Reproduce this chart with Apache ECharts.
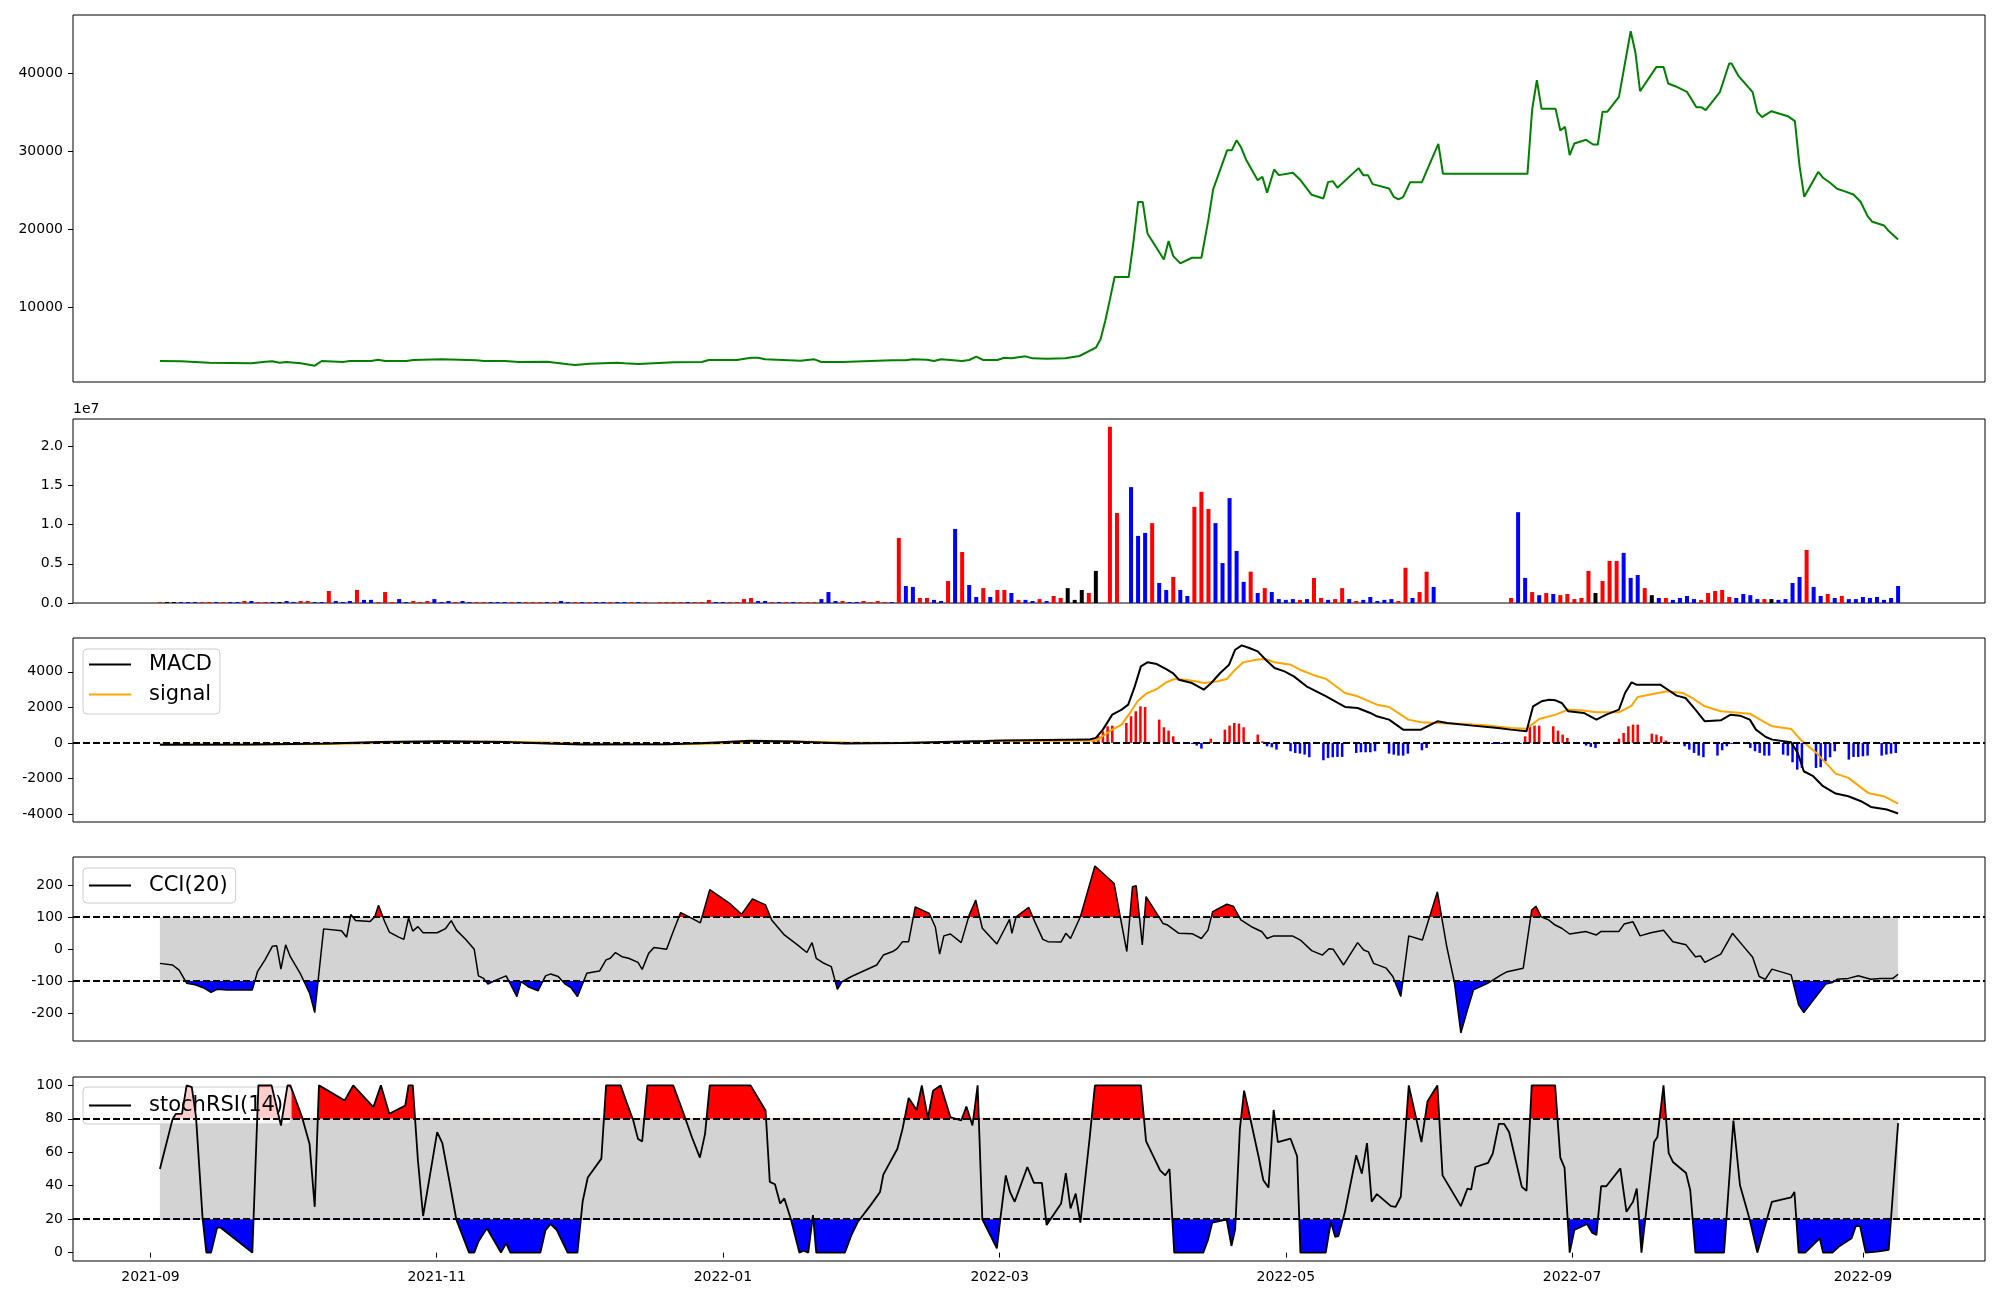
<!DOCTYPE html>
<html><head><meta charset="utf-8">
<script src="https://cdn.jsdelivr.net/npm/echarts@6/dist/echarts.min.js"></script>
<style>html,body{margin:0;padding:0;background:#fff}#chart{width:2000px;height:1300px}</style>
</head><body><div id="chart"></div>
<script>
// ---------- DATA (x = days after 2021-09-03) ----------
const START = [2021, 8, 3];
const VOLUME_STEP_DAYS = 1.5;
const monthTicks = ['2021-09','2021-11','2022-01','2022-03','2022-05','2022-07','2022-09'];
const priceTicks = [10000, 20000, 30000, 40000];
const volumeTicks = [0, 0.5, 1.0, 1.5, 2.0];
const macdTicks = [-4000, -2000, 0, 2000, 4000];
const cciTicks = [-200, -100, 0, 100, 200];
const stochTicks = [0, 20, 40, 60, 80, 100];

const price = [[0,3182],[4.5,3139],[7.5,3054],[10.5,2969],[19.5,2884],[22.5,3097],[24,3139],[25.5,2969],[27,3054],[30,2884],[33,2586],[34.5,3182],[39,3054],[40.5,3182],[45,3182],[46.5,3352],[48,3182],[52.5,3182],[54,3310],[60,3395],[67.5,3267],[69,3182],[73.5,3182],[76.5,3054],[82.5,3097],[87,2756],[88.5,2671],[91.5,2841],[97.5,2969],[99,2884],[102,2799],[109.5,3012],[115.5,3054],[117,3310],[123,3310],[126,3608],[127.5,3608],[129,3395],[136.5,3225],[139.5,3395],[141,3054],[145.5,3054],[156,3267],[159,3267],[160.5,3395],[163.5,3352],[165,3182],[166.5,3395],[171,3182],[172.5,3310],[174,3736],[175.5,3310],[178.5,3310],[180,3608],[181.5,3523],[184.5,3778],[186,3523],[189,3480],[193,3523],[196,3821],[199.5,4885],[200.5,5950],[201.5,8290],[202.5,11057],[203.5,13909],[206.5,13909],[207.5,18294],[208.5,23488],[209.5,23488],[210.5,19486],[214,16166],[215,18507],[216,16592],[217.5,15656],[220,16379],[222,16379],[223.5,21274],[224.5,25105],[227.5,30128],[228.5,30128],[229.5,31406],[230.5,30427],[231.5,28937],[234,26297],[235,26723],[236,24680],[237.5,27660],[238.5,26936],[241.5,27234],[243,26383],[245.5,24424],[248,23956],[249,26042],[250,26170],[251,25318],[255.5,27830],[256.5,26936],[257.5,26936],[258.5,25786],[262,25233],[263,24169],[264,23828],[265,24126],[266.5,26042],[269,26042],[270,27447],[272.5,30938],[273.5,27106],[291.5,27106],[292.5,35322],[293.5,39068],[294.5,35407],[297.5,35407],[298.5,32640],[299.5,33108],[300.5,29490],[301.5,30980],[304,31448],[305.5,30852],[306.5,30852],[307.5,35024],[308.5,35024],[311,36940],[313.5,45326],[314.5,42644],[315.5,37663],[319,40770],[320.5,40770],[321.5,38642],[323,38302],[325.5,37578],[327.5,35620],[328.5,35620],[329.5,35237],[332.5,37535],[334.5,41196],[335,41196],[336.5,39579],[339.5,37535],[340.5,34981],[341.5,34343],[343.5,35109],[347,34470],[348.5,33832],[349.5,28085],[350.5,24169],[353.5,27362],[354.5,26595],[356,25957],[357.5,25190],[359,24892],[361,24467],[362.5,23530],[364,21700],[365,20976],[367.5,20507],[368.5,19784],[370.5,18719]];

// volume, in units of 1e7, one bar every VOLUME_STEP_DAYS
const volumeE7 = [
 .013,.013,.013,.013,.013,.013,.013,.013,.013,.013,.013,.013,.026,.026,.013,.013,.013,.013,.026,.013,.026,.026,.013,.013,
 .153,.026,.013,.026,.166,.04,.04,.013,.14,.013,.05,.013,.026,.013,.026,.05,.013,.026,.013,.026,.013,.013,.013,.013,
 .013,.013,.013,.013,.013,.013,.013,.013,.013,.026,.013,.013,.013,.013,.013,.013,.013,.013,.013,.013,.013,.013,0,.013,
 .013,.013,.013,.013,.013,.013,.04,.013,.013,.013,.013,.05,.064,.026,.026,.013,.013,.013,.013,.013,.013,.013,.05,.14,
 .026,.026,.013,.013,.026,.013,.026,.013,.013,.831,.217,.205,.064,.064,.04,.026,.281,.946,.652,.23,.077,.19,.077,.166,
 .166,.128,.04,.04,.026,.05,.026,.09,.064,.19,.04,.166,.128,.41,0,2.25,1.15,0,1.48,.857,.895,1.02,.256,.166,
 .332,.166,.09,1.228,1.42,1.20,1.02,.51,1.34,.665,.27,.40,.128,.19,.14,.05,.04,.05,.04,.05,.32,.064,.04,.05,
 .19,.05,.026,.04,.077,.026,.04,.05,.026,.45,.064,.14,.40,.205,0,0,0,0,0,0,0,0,0,0,
 .064,1.16,.32,.14,.10,.128,.115,.10,.115,.05,.064,.41,.128,.28,.537,.537,.64,.32,.358,.19,.10,.064,.064,.04,
 .064,.09,.05,.04,.128,.153,.166,.077,.064,.115,.10,.05,.05,.05,.04,.05,.256,.332,.678,.205,.09,.115,.064,.09,
 .05,.05,.077,.064,.077,.04,.064,.217];
const volumeColors =
 'rkkbbbrrbrbbrbrrbkbbrrbb' + 'rbbbrbbrrrbbrrrbbbrbbrrb' + 'bbrbrrrbrbbrbrbbrbbrbrrr' +
 'rrrbrrrbbrrrrbbrbrbrrrbb' + 'brbbrrrrbrbbrrbbrbrbbrbr' + 'rbrbbrbrrkkkrkrrrrbbbrbb' +
 'rbbrrrbbbbbrbrbbbbrbrrbr' + 'rbrbbbbbrrbrrbrrrrrrrrrr' + 'rbbrbrbrrrrrkrrrbbbrkbrb' +
 'bbbrrrrrbbbbrkbbbbrbbrbr' + 'bbbbbbbb';

const macd = [[0,-100],[19.5,-90],[36,-30],[46.5,50],[60,90],[73.5,50],[82.5,-30],[90,-90],[108,-80],[115,-20],[126,120],[135,80],[146,-40],[158,0],[169,60],[176,100],[179.2,128],[198,184],[199.5,278],[201,746],[203,1589],[205,1870],[206.4,2151],[207.8,3181],[209.1,4305],[210.5,4530],[212.5,4436],[214.5,4155],[215.9,3930],[217.2,3556],[220,3368],[222.5,2994],[224.1,3368],[226,3930],[227.9,4398],[229.2,5241],[230.6,5485],[232.2,5335],[234,5148],[235.7,4679],[237.6,4211],[239.7,4024],[241.7,3743],[244.4,3181],[248.6,2619],[252.6,2020],[255.3,1963],[258,1683],[259.4,1495],[262,1308],[265,746],[268.8,746],[270.9,1027],[272.3,1214],[274.4,1120],[279.8,971],[285.2,840],[287.9,746],[291.3,652],[292.7,2057],[294.5,2338],[296.1,2432],[297.5,2394],[298.8,2245],[300.2,1776],[303.5,1683],[306.2,1308],[308.3,1589],[311,1870],[312.3,2807],[313.7,3406],[314.7,3275],[319.8,3275],[321.2,3031],[323.3,2657],[325.2,2525],[327.3,1870],[329.3,1214],[332.7,1270],[334.8,1589],[336.8,1533],[338.9,1308],[340.2,746],[342.3,334],[343.7,184],[347.7,34],[349.1,-565],[350.4,-1595],[352.4,-1876],[354.5,-2438],[357.2,-2850],[359.9,-3000],[362.6,-3281],[364.7,-3600],[368.1,-3749],[370.5,-3974]];
const signal = [[0,-80],[19.5,-90],[36,-60],[46.5,0],[60,60],[73.5,60],[82.5,20],[90,-40],[108,-80],[115,-60],[126,40],[135,80],[146,20],[158,-10],[169,30],[179.2,90],[199.5,128],[200.9,371],[203,746],[205,1027],[207,1776],[208.4,2338],[210.2,2769],[212.5,3031],[214.5,3406],[216.2,3593],[218.6,3556],[220.7,3462],[222.6,3368],[225.5,3462],[227.4,3593],[229.2,4117],[230.9,4530],[233.6,4679],[235.7,4717],[237.6,4530],[241,4398],[243,4117],[245.7,3836],[248.6,3593],[252.6,2807],[255.3,2619],[259.4,2151],[262,2020],[266.1,1308],[268.8,1158],[271.7,1120],[277.1,1083],[282.5,989],[287.9,840],[291.3,802],[294,1345],[297.5,1589],[300.2,1870],[302.9,1832],[306.2,1720],[311,1720],[313.7,2095],[315,2582],[318.5,2769],[321.2,2900],[324.6,2807],[326.6,2526],[329.3,2057],[332.7,1776],[338.9,1645],[340.8,1345],[343.7,933],[347.7,784],[349.7,184],[353.1,-565],[357.2,-1726],[359.9,-1970],[364.1,-2813],[367.4,-3000],[370.5,-3412]];
const hist = [[199,184],[200,409],[201,652],[202,933],[203,971],[206,1120],[207,1495],[208,1776],[209,2057],[210,2020],[213,1308],[214,877],[215,690],[216,371],[220,-56],[221,-150],[222,-322],[224,240],[227,746],[228,971],[229,1120],[230,1083],[231,877],[234,465],[235,90],[236,-190],[237,-247],[238,-378],[241,-471],[242,-565],[243,-603],[244,-659],[245,-808],[248,-977],[249,-846],[250,-808],[251,-790],[252,-790],[255,-565],[256,-527],[257,-527],[258,-527],[259,-471],[262,-603],[263,-659],[264,-715],[265,-715],[266,-603],[269,-415],[270,-284],[277,-60],[278,-60],[283,-60],[284,-60],[285,-60],[286,-60],[290,-60],[291,371],[292,933],[293,971],[294,971],[297,933],[298,690],[299,465],[300,278],[304,-150],[305,-225],[306,-284],[311,240],[312,559],[313,933],[314,1027],[315,1027],[318,521],[319,465],[320,371],[321,128],[322,34],[325,-190],[326,-378],[327,-565],[328,-715],[329,-808],[332,-715],[333,-415],[334,-190],[335,-60],[339,-284],[340,-471],[341,-565],[342,-715],[343,-715],[346,-659],[347,-715],[348,-1090],[349,-1502],[350,-1408],[353,-1408],[354,-1370],[355,-1033],[356,-808],[357,-471],[360,-940],[361,-790],[362,-790],[363,-752],[364,-715],[367,-715],[368,-659],[369,-603],[370,-565]];

const cci = [[0,-45],[2.7,-50],[4.1,-66],[5.7,-107],[7.5,-112],[9.5,-123],[10.9,-136],[12.2,-126],[14.3,-128],[19.7,-128],[20.8,-71],[22.4,-34],[24,9],[24.9,10],[25.8,-63],[26.8,13],[27.8,-24],[29.9,-76],[31.9,-138],[33,-199],[34.9,63],[38.7,57],[39.8,37],[40.7,108],[41.7,89],[44.8,86],[45.8,101],[46.6,137],[47.9,86],[48.9,53],[50.9,37],[52,30],[53,97],[53.9,56],[55,70],[56.1,51],[59.1,51],[60.9,64],[62.1,89],[63.2,59],[65.2,30],[67,-1],[67.9,-84],[69,-92],[69.9,-110],[72,-95],[73.8,-84],[76.1,-149],[77,-102],[78.5,-118],[80.6,-131],[82.2,-84],[83.3,-78],[84.9,-86],[86.3,-109],[87.6,-121],[89,-149],[91,-76],[92.4,-72],[93.7,-69],[95.1,-34],[96,-29],[97.1,-11],[98.5,-24],[99.9,-29],[101.9,-42],[102.8,-64],[104.2,-13],[105.3,5],[108,-1],[109.4,54],[111,114],[112.1,106],[115.2,82],[117.2,186],[121.6,141],[124,109],[126.3,157],[129.1,138],[130.4,91],[133.1,44],[135.9,13],[137.9,-11],[139,20],[139.9,-29],[141.3,-43],[143.1,-55],[144.4,-126],[145.4,-102],[147.4,-86],[150.1,-68],[152.8,-50],[154.2,-19],[156.2,-8],[157.2,2],[158.3,23],[159.6,23],[161,132],[164,111],[165.3,68],[166.2,-16],[167.1,41],[168.5,47],[170.8,20],[172.5,106],[173.9,153],[175.3,65],[178.4,16],[180,61],[181.1,93],[181.6,49],[182.5,101],[185.2,130],[186.5,85],[188.2,30],[189.3,23],[192.1,22],[193.1,49],[194.1,33],[196.2,101],[199.3,260],[203.4,205],[204.7,101],[206.1,-8],[207.3,195],[208.1,198],[209.4,13],[210.2,164],[211.8,127],[213.8,80],[214.8,75],[217.2,49],[220,48],[222,33],[223.4,59],[224.4,117],[227.4,140],[228.8,134],[230.4,91],[232.9,68],[234.9,54],[236,33],[237.4,41],[241.4,41],[243.1,28],[245.5,-5],[247.8,-19],[249.2,1],[250.1,-1],[252.3,-50],[255.3,20],[256.6,-3],[257.6,-9],[258.7,-45],[261.4,-60],[262.8,-86],[264.5,-149],[266.2,41],[269.1,28],[272.3,179],[274.3,7],[275.9,-102],[277.3,-263],[278.7,-191],[280,-128],[283.1,-107],[285.9,-81],[287.2,-71],[290.6,-60],[292.4,122],[293.3,134],[294.4,101],[296,91],[297.4,75],[298.8,65],[300.5,47],[302.2,51],[303.9,55],[306.2,44],[307.2,55],[311,55],[312.1,78],[314,85],[315.5,41],[317.8,51],[320.5,59],[322.5,23],[325.3,13],[327.3,-24],[328.4,-22],[329.3,-42],[332.7,-16],[335.2,49],[337.5,9],[339.5,-26],[340.9,-86],[342.2,-95],[343.6,-63],[347.7,-81],[349.3,-175],[350.4,-199],[353.1,-147],[355.1,-110],[356.5,-105],[357.5,-95],[359.9,-92],[362,-84],[364.7,-95],[366.7,-92],[369.4,-92],[370.5,-79]];

const stoch = [[0,50],[2.7,79.8],[3.4,83],[4.7,83],[5.7,100],[6.8,99],[7.7,81],[9.1,20.5],[9.9,0],[10.9,0],[12.2,15],[12.9,15],[19.7,0],[21,100],[23.8,100],[25.8,76],[27.2,100],[27.8,100],[30.3,81],[31.9,65],[33,27.4],[33.9,100],[39.4,91],[41.2,100],[45.5,87],[47.1,100],[48.9,83],[52.3,88],[53,100],[53.9,100],[55,55],[56.1,21.9],[59.1,72],[60.2,65.5],[61.8,41.3],[63.2,19.5],[65.9,0],[67,0],[67.9,6.6],[69.7,14.5],[72.7,0],[73.8,5.6],[74.7,0],[81.1,0],[82.2,13.5],[83.3,17.1],[84.6,13.5],[86.9,0],[89,0],[90.1,30.4],[91.2,44.9],[94.1,56.2],[95.1,100],[98.2,100],[99.6,88.9],[100.9,79],[101.9,68],[102.8,66.5],[103.9,100],[109.4,100],[111.4,85],[113.4,69],[115.1,56.8],[116.2,71],[117.2,100],[125.9,100],[129.1,85],[130,42.3],[131.1,40.9],[132.2,29.4],[133.1,32.4],[134.5,19.9],[136.3,0],[137.2,1.2],[138.2,0],[139.2,22.4],[139.9,0],[146,0],[147.4,10.5],[148.8,18.5],[151.5,28.4],[153.5,36.3],[154.2,46.6],[157.2,62.1],[158.3,74],[159.6,92.5],[161.3,85.3],[162.4,100],[163.7,80.4],[164.8,96.8],[166.4,100],[168.5,81],[170.8,79],[171.9,87.3],[173.2,76],[174.3,100],[175.3,19.9],[178.4,2.6],[179.2,21.5],[180.3,46.2],[181.2,36.3],[182.2,30.4],[184.9,51.2],[186.3,41.7],[188,41.7],[189,16.5],[192.1,29.4],[193.1,47.6],[194.1,26.4],[195.2,35.3],[196.2,17.9],[198.2,69.1],[199.3,100],[209.1,100],[210.2,66.7],[213.2,49.2],[214.3,46.2],[215.2,50],[216.2,0],[222.4,0],[223.4,7.6],[224.3,17.9],[226.8,19.5],[227.4,19.5],[228.4,4],[229.2,13.9],[230.2,74],[231.1,96.8],[232.2,83],[234.2,57.2],[235.2,43.3],[236.3,38.9],[237.4,85.3],[238.3,66.1],[241,68.1],[242.4,57.6],[243.1,0],[248.5,0],[249.6,18.5],[250.5,9.5],[251.2,9.9],[252.6,24.4],[255,58.2],[256.2,47.2],[257.3,65.5],[258.3,30.4],[259.4,35],[262.4,27.8],[263.4,27.4],[264.5,33.4],[266.2,100],[268.9,66.1],[270.2,90.5],[272.3,100],[273.4,46.2],[277.3,27.8],[278.7,38.3],[279.5,37.7],[280.4,51.2],[283.1,53.6],[284.1,59.2],[285.4,77],[286.5,77],[287.6,72],[290.3,39.3],[291.3,36.9],[292.4,100],[297.4,100],[298.5,56.8],[299.4,50.8],[300.5,0],[301.5,13.5],[304.2,17.1],[305.3,11.9],[306.2,10.5],[307.2,39.7],[308.3,39.7],[311.3,50.4],[312.6,24.4],[314,30.4],[314.8,38.3],[315.8,0],[318.5,66.1],[319.2,69.1],[320.5,100],[321.6,59.5],[322.5,54.2],[325.3,47.6],[326.2,37.3],[327.3,0],[333.4,0],[335.4,79],[336.8,40.3],[338.8,20.5],[340.5,0],[343.6,30.4],[347.7,33],[348.4,36.3],[349.3,0],[350.7,0],[353.8,8.6],[354.5,0],[356.5,0],[357.9,3.6],[360.6,8.6],[361.5,15.9],[362.4,15.9],[363.6,0],[366,0.6],[368.5,1.6],[370.5,77.4]];

// ---------- CHART ----------
const FONT = 'DejaVu Sans';
const DAY = 86400000;
const t0 = new Date(START[0], START[1], START[2]).getTime();
const T = d => t0 + d * DAY;
const lastDay = price[price.length - 1][0];
const xMin = T(-0.05 * lastDay), xMax = T(1.05 * lastDay);
const monthVals = monthTicks.map(s => new Date(+s.slice(0, 4), +s.slice(5, 7) - 1, 1).getTime());
const pad2 = n => (n < 10 ? '0' : '') + n;
const fmtMonth = v => { const d = new Date(v); return d.getFullYear() + '-' + pad2(d.getMonth() + 1); };
const toXY = arr => arr.map(p => [T(p[0]), p[1]]);
const colorOf = { r: '#ff0000', b: '#0000ff', k: '#000000' };

const gridBoxes = [[15, 367], [419, 184], [638, 184], [857, 184], [1077, 184]];
const grid = gridBoxes.map(g => ({ left: 73, right: 15, top: g[0], height: g[1], show: true, borderColor: '#000', borderWidth: 1, backgroundColor: 'transparent' }));

const xAxis = gridBoxes.map((g, i) => ({
  type: 'value', gridIndex: i, min: xMin, max: xMax, scale: true,
  axisLine: { show: false }, splitLine: { show: false },
  axisTick: { show: i === 4, customValues: monthVals, length: 5, lineStyle: { color: '#000', width: 1 } },
  axisLabel: { show: i === 4, customValues: monthVals, formatter: fmtMonth, fontSize: 14, fontFamily: FONT, color: '#000', margin: 9 }
}));

function yAx(i, min, max, ticks, fmt) {
  return {
    type: 'value', gridIndex: i, min, max, scale: true,
    axisLine: { show: false }, splitLine: { show: false },
    axisTick: { show: true, customValues: ticks, length: 5, lineStyle: { color: '#000', width: 1 } },
    axisLabel: { show: true, customValues: ticks, formatter: fmt, fontSize: 14, fontFamily: FONT, color: '#000', margin: 10 }
  };
}
const yAxis = [
  yAx(0, 500, 47400, priceTicks, v => String(v)),
  yAx(1, 0, 2.35, volumeTicks, v => v.toFixed(1)),
  yAx(2, -4450, 5900, macdTicks, v => String(v)),
  yAx(3, -288, 288, cciTicks, v => String(v)),
  yAx(4, -5, 105, stochTicks, v => String(v))
];

const dashed = { type: [7, 3], color: '#000', width: 2 };
const hLines = (vals) => ({ silent: true, symbol: 'none', label: { show: false }, lineStyle: dashed, data: vals.map(v => ({ yAxis: v })) });
const band = (lo, hi) => ({ silent: true, itemStyle: { color: '#d3d3d3' }, data: [[{ xAxis: T(0), yAxis: lo }, { xAxis: T(lastDay), yAxis: hi }]] });
const fillSeries = (idx, data, origin, z) => ({ type: 'line', xAxisIndex: idx, yAxisIndex: idx, data, symbol: 'none', z, silent: true, lineStyle: { opacity: 0, width: 0 }, areaStyle: { origin, opacity: 1 } });

const series = [];
series.push({ name: 'price', type: 'line', xAxisIndex: 0, yAxisIndex: 0, data: toXY(price), symbol: 'none', lineStyle: { color: '#008000', width: 2 }, itemStyle: { color: '#008000' } });
series.push({ name: 'volume', type: 'bar', xAxisIndex: 1, yAxisIndex: 1, barWidth: 4,
  data: volumeE7.map((v, k) => ({ value: [T(k * VOLUME_STEP_DAYS), v], itemStyle: { color: colorOf[volumeColors[k]] || '#0000ff' } })).filter(o => o.value[1] > 0) });
series.push({ name: 'hist', type: 'bar', xAxisIndex: 2, yAxisIndex: 2, barWidth: 2.5, z: 2,
  data: hist.map(p => ({ value: [T(p[0]), p[1]], itemStyle: { color: p[1] >= 0 ? '#ff0000' : '#0000ff' } })) });
series.push({ name: 'signal', type: 'line', xAxisIndex: 2, yAxisIndex: 2, data: toXY(signal), symbol: 'none', z: 3, lineStyle: { color: '#ffa500', width: 2 }, itemStyle: { color: '#ffa500' } });
series.push({ name: 'MACD', type: 'line', xAxisIndex: 2, yAxisIndex: 2, data: toXY(macd), symbol: 'none', z: 4, lineStyle: { color: '#000', width: 2 }, itemStyle: { color: '#000' }, markLine: hLines([0]) });
// CCI
const cciXY = toXY(cci);
series.push({ name: 'cciBand', type: 'line', xAxisIndex: 3, yAxisIndex: 3, data: [[T(0), 0]], symbol: 'none', lineStyle: { opacity: 0 }, z: 1, markArea: band(-100, 100) });
series.push(fillSeries(3, cciXY, 100, 2));   // index 6
series.push(fillSeries(3, cciXY, -100, 2));  // index 7
series.push({ name: 'CCI(20)', type: 'line', xAxisIndex: 3, yAxisIndex: 3, data: cciXY, symbol: 'none', z: 4, lineStyle: { color: '#000', width: 1.5 }, itemStyle: { color: '#000' }, markLine: hLines([100, -100]) });
// stochRSI
const stXY = toXY(stoch);
series.push({ name: 'stBand', type: 'line', xAxisIndex: 4, yAxisIndex: 4, data: [[T(0), 50]], symbol: 'none', lineStyle: { opacity: 0 }, z: 1, markArea: band(20, 80) });
series.push(fillSeries(4, stXY, 80, 2));   // index 10
series.push(fillSeries(4, stXY, 20, 2));   // index 11
series.push({ name: 'stochRSI(14)', type: 'line', xAxisIndex: 4, yAxisIndex: 4, data: stXY, symbol: 'none', z: 4, lineStyle: { color: '#000', width: 1.8 }, itemStyle: { color: '#000' }, markLine: hLines([80, 20]) });

const clear = 'rgba(255,255,255,0)';
const visualMap = [
  { type: 'piecewise', show: false, seriesIndex: 6, dimension: 1, pieces: [{ gt: 100, lte: 5000, color: '#ff0000' }, { gte: -5000, lte: 100, color: clear }] },
  { type: 'piecewise', show: false, seriesIndex: 7, dimension: 1, pieces: [{ gte: -5000, lt: -100, color: '#0000ff' }, { gte: -100, lte: 5000, color: clear }] },
  { type: 'piecewise', show: false, seriesIndex: 10, dimension: 1, pieces: [{ gt: 80, lte: 5000, color: '#ff0000' }, { gte: -5000, lte: 80, color: clear }] },
  { type: 'piecewise', show: false, seriesIndex: 11, dimension: 1, pieces: [{ gte: -5000, lt: 20, color: '#0000ff' }, { gte: 20, lte: 5000, color: clear }] }
];

const legendBase = {
  orient: 'vertical', left: 83, icon: 'rect', itemWidth: 42, itemHeight: 2, itemGap: 9, selectedMode: false,
  backgroundColor: 'rgba(255,255,255,0.8)', borderColor: '#cccccc', borderWidth: 1, borderRadius: 4,
  formatter: '{a|{name}}',
  textStyle: { fontSize: 21, fontFamily: FONT, color: '#000', rich: { a: { fontSize: 21, fontFamily: FONT, color: '#000', padding: [0, 0, 0, 13] } } }
};
const legend = [
  Object.assign({}, legendBase, { top: 649, data: ['MACD', 'signal'], padding: [5, 8, 9, 6] }),
  Object.assign({}, legendBase, { top: 868, data: ['CCI(20)'], padding: [7, 8, 7, 6] }),
  Object.assign({}, legendBase, { top: 1087, data: ['stochRSI(14)'], padding: [8, 8, 8, 6] })
];

const chart = echarts.init(document.getElementById('chart'), null, { renderer: 'canvas' });
chart.setOption({
  animation: false,
  backgroundColor: '#ffffff',
  textStyle: { fontFamily: FONT },
  grid, xAxis, yAxis, series, visualMap, legend,
  graphic: [{ type: 'text', left: 73, top: 402, style: { text: '1e7', fontSize: 14, fontFamily: FONT, fill: '#000' } }]
});
</script></body></html>
